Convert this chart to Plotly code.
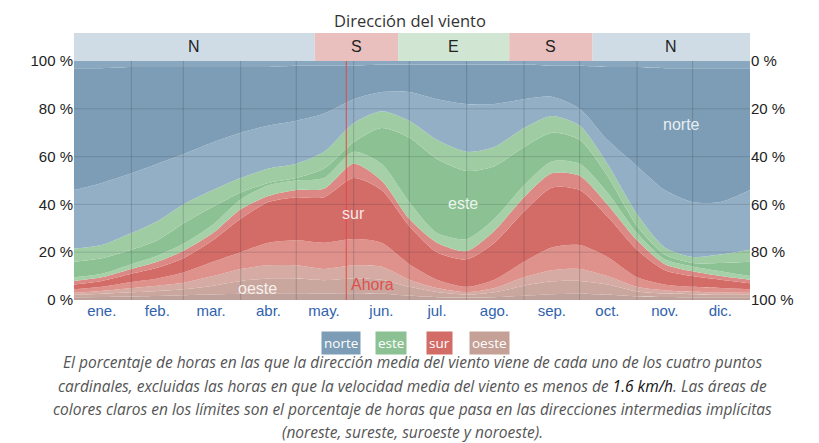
import plotly.graph_objects as go

# ---------------- data ----------------
days = [0, 15, 31, 45, 59, 75, 90, 105, 120, 135, 151, 166, 181, 196, 212, 227, 243, 258, 273, 288, 304, 319, 334, 349, 365]

# cumulative upper boundary of each band, in % (bottom -> top)
nw_low_top = [1.2, 1.3, 1.5, 1.7, 2, 2.3, 2.6, 2.8, 2.8, 2.7, 2.8, 2.6, 1.8, 1.2, 1, 1.2, 1.8, 2.4, 2.6, 2.2, 1.5, 1.3, 1.2, 1.1, 1.2]
w_top = [2.2, 2.6, 3.2, 3.8, 4.5, 6, 8, 9, 9, 8.3, 9, 8.5, 5.5, 3.3, 2.2, 3.2, 6, 7.8, 8, 6.5, 3.6, 2.7, 2.4, 2.2, 2.2]
sw_low_top = [3, 3.8, 5, 6, 7.2, 10, 13, 14.5, 14.5, 13, 14.5, 14, 8.5, 5, 3.3, 5, 9.5, 12.5, 13, 10, 5.5, 4, 3.5, 3.2, 3]
sw_up_top = [4.5, 5.5, 7.5, 9, 11.5, 16, 20, 24, 25, 24, 25.5, 24, 15, 8.5, 5.5, 8.5, 16, 22, 23, 18, 9.5, 6.5, 5.5, 5, 4.5]
s_top = [6.5, 8, 11, 13.5, 17.5, 25, 34, 41, 43, 43, 51, 46, 31, 20, 17, 24, 37, 47, 46, 35, 21, 12.5, 10, 8.5, 7]
se_low_top = [8, 9.5, 13, 16, 20.5, 28, 38, 43.5, 46, 46.5, 57, 50, 34, 24, 20.5, 29, 43, 53, 52, 40, 25, 15, 12, 10, 8.5]
se_up_top = [9.5, 11, 15, 18.5, 23.5, 31.5, 42, 48, 50, 51, 62, 57, 41, 28, 25.5, 34, 48, 58, 57, 45, 28, 17, 14, 12, 10]
e_top = [16, 17.5, 21, 25, 32, 39, 45, 49, 51, 55, 66, 72, 68, 59, 54, 56, 64, 70, 67, 52, 31, 19, 15.5, 15.5, 16]
ne_low_top = [21.5, 23, 28, 33, 40, 46, 51, 55, 57, 62, 74, 79, 75, 67, 62, 64, 72, 77, 73, 57, 36, 22, 18, 19, 21]
ne_up_top = [46, 49, 53, 57, 61, 66, 70, 73, 75, 78, 84, 87, 87, 84, 82, 82, 84, 85, 80, 67, 56, 46, 41, 41, 46]
n_top = [97, 97, 97.5, 97.5, 97.5, 97.5, 97.5, 97.5, 98, 98, 98, 98.5, 98.5, 98.5, 98.5, 98.5, 98.5, 98, 98, 97.5, 97.5, 97, 97, 97, 97]
nw_up_top = [100] * len(days)

month_mid = [15, 45, 74, 105, 135, 166, 196, 227, 258, 288, 319, 349]
month_labels = ["ene.", "feb.", "mar.", "abr.", "may.", "jun.", "jul.", "ago.", "sep.", "oct.", "nov.", "dic."]
month_bounds = [31, 59, 90, 120, 151, 181, 212, 243, 273, 304, 334]

header_edges = [0, 130, 175, 235, 280, 365]
header_labels = ["N", "S", "E", "S", "N"]
now_day = 147

y_ticks = [0, 20, 40, 60, 80, 100]
y_ticktext = ["0 %", "20 %", "40 %", "60 %", "80 %", "100 %"]

# ---------------- styling ----------------
bands = [
    (nw_low_top, "#bea19b"),
    (w_top, "#caa79e"),
    (sw_low_top, "#d5aba3"),
    (sw_up_top, "#df918b"),
    (s_top, "#d36c67"),
    (se_low_top, "#dc8985"),
    (se_up_top, "#a6d0a7"),
    (e_top, "#8cc293"),
    (ne_low_top, "#a0cca4"),
    (ne_up_top, "#93afc5"),
    (n_top, "#7c9db5"),
    (nw_up_top, "#89a8bf"),
]
header_colors = {"N": "#d0dce5", "S": "#e9c0be", "E": "#d0e6d3"}

# page body has an 8px margin: lay out in page pixels minus that offset
OFF = 8
W, H = 819 - OFF, 443 - OFF
L, R, T, B = 74 - OFF, 69, 61 - OFF, 143
pw, ph = W - L - R, H - T - B


def px(x):
    return (x - OFF - L) / pw


def py(y):
    return (H - B - (y - OFF)) / ph


fig = go.Figure()
for i, (vals, col) in enumerate(bands):
    fig.add_trace(go.Scatter(
        x=days, y=vals, mode="lines",
        line=dict(width=0, color=col, shape="spline", smoothing=0.7),
        fill="tozeroy" if i == 0 else "tonexty",
        fillcolor=col, hoverinfo="skip", showlegend=False,
    ))

# invisible trace for the right axis
fig.add_trace(go.Scatter(x=[days[0]], y=[0], yaxis="y2", mode="markers",
                         marker=dict(opacity=0), showlegend=False, hoverinfo="skip"))

shapes = []
for b in month_bounds:
    shapes.append(dict(type="line", xref="x", yref="y", x0=b, x1=b, y0=0, y1=100,
                       line=dict(color="rgba(40,50,60,0.22)", width=1), layer="above"))
for t in y_ticks[1:-1]:
    shapes.append(dict(type="line", xref="paper", yref="y", x0=0, x1=1, y0=t, y1=t,
                       line=dict(color="rgba(40,50,60,0.18)", width=1), layer="above"))
for k, lab in enumerate(header_labels):
    shapes.append(dict(type="rect", xref="x", yref="paper", x0=header_edges[k], x1=header_edges[k + 1],
                       y0=1.0, y1=py(33), fillcolor=header_colors[lab], line=dict(width=0), layer="above"))
shapes.append(dict(type="line", xref="x", yref="y", x0=now_day, x1=now_day, y0=0, y1=100,
                   line=dict(color="#e04848", width=1), layer="above"))

annotations = []
for k, lab in enumerate(header_labels):
    annotations.append(dict(x=(header_edges[k] + header_edges[k + 1]) / 2, y=py(47), xref="x", yref="paper",
                            text=lab, showarrow=False, font=dict(family="Liberation Sans", size=16, color="#222"),
                            yanchor="middle"))

lab_font = dict(family="Liberation Sans", size=16, color="rgba(255,255,255,0.85)")
annotations += [
    dict(x=328, y=73.5, xref="x", yref="y", text="norte", showarrow=False, font=lab_font),
    dict(x=210, y=40.5, xref="x", yref="y", text="este", showarrow=False, font=lab_font),
    dict(x=151, y=36, xref="x", yref="y", text="sur", showarrow=False, font=lab_font),
    dict(x=99, y=4.8, xref="x", yref="y", text="oeste", showarrow=False, font=lab_font),
    dict(x=now_day + 1.5, y=6.3, xref="x", yref="y", text="Ahora", showarrow=False, xanchor="left",
         font=dict(family="Liberation Sans", size=16, color="#e05050")),
]

annotations.append(dict(x=px(410), y=py(OFF), xref="paper", yref="paper", text="Dirección del viento",
                        showarrow=False, yanchor="top", borderpad=0,
                        font=dict(family="Open Sans", size=16.5, color="#333")))

chips = [("norte", "#7c9db5", 341), ("este", "#8cc293", 391), ("sur", "#d36c67", 439), ("oeste", "#c4a096", 489)]
for txt, col, cx in chips:
    annotations.append(dict(x=px(cx), y=py(343), xref="paper", yref="paper", text=txt, showarrow=False,
                            bgcolor=col, borderpad=2, yanchor="middle",
                            font=dict(family="Open Sans", size=13.5, color="white")))

caption = [
    "El porcentaje de horas en las que la dirección media del viento viene de cada uno de los cuatro puntos",
    "cardinales, excluidas las horas en que la velocidad media del viento es menos de <span style='color:#111'>1.6 km/h</span>. Las áreas de",
    "colores claros en los límites son el porcentaje de horas que pasa en las direcciones intermedias implícitas",
    "(noreste, sureste, suroeste y noroeste).",
]
for i, line in enumerate(caption):
    annotations.append(dict(x=px(413), y=py(362 + 23.5 * i), xref="paper", yref="paper",
                            text="<i>" + line + "</i>", showarrow=False, yanchor="middle", borderpad=0,
                            font=dict(family="Open Sans", size=15.5, color="#555")))

fig.update_layout(
    width=W, height=H,
    margin=dict(l=L, r=R, t=T, b=B),
    paper_bgcolor="white", plot_bgcolor="white",
    showlegend=False,
    xaxis=dict(range=[0, 365], tickmode="array", tickvals=month_mid, ticktext=month_labels,
               showgrid=False, zeroline=False, ticks="", showline=False,
               tickfont=dict(family="Liberation Sans", size=15, color="#2f62ad")),
    yaxis=dict(range=[0, 100], tickmode="array", tickvals=y_ticks, ticktext=y_ticktext,
               showgrid=False, zeroline=False, ticks="",
               tickfont=dict(family="Liberation Sans", size=15, color="#222")),
    yaxis2=dict(range=[100, 0], overlaying="y", side="right", tickmode="array", tickvals=y_ticks,
                ticktext=y_ticktext, showgrid=False, zeroline=False, ticks="",
                tickfont=dict(family="Liberation Sans", size=15, color="#222")),
    shapes=shapes,
    annotations=annotations,
)

fig.write_html("out.html")
